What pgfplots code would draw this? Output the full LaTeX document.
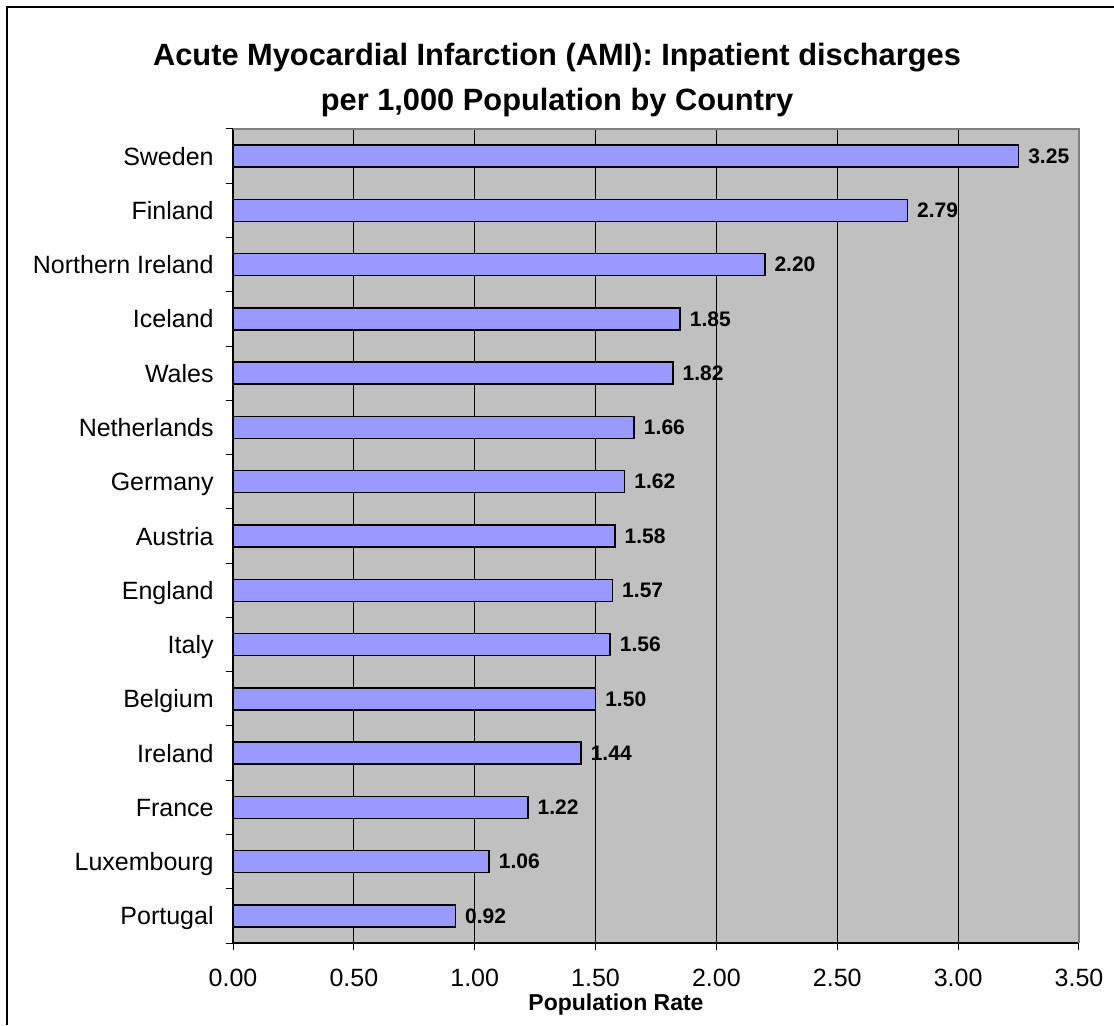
\documentclass[border=0pt]{standalone}
\usepackage{pgfplots}
\pgfplotsset{compat=1.18}
\usepackage{pgfplotstable}
\usepackage{fontspec}
\setmainfont{Liberation Sans}
\definecolor{barblue}{HTML}{9999FF}
\definecolor{plotgray}{HTML}{C0C0C0}
\definecolor{bordergray}{HTML}{808080}
\pgfplotstableread{
idx value
0 0.92
1 1.06
2 1.22
3 1.44
4 1.50
5 1.56
6 1.57
7 1.58
8 1.62
9 1.66
10 1.82
11 1.85
12 2.20
13 2.79
14 3.25
}\amidata
\begin{document}
\begin{tikzpicture}[x=1pt,y=1pt]
\useasboundingbox (0,0) rectangle (557,512.5);
\draw[line width=1pt] (3.5,0) -- (3.5,509) -- (557,509);
\node[anchor=base,font=\fontsize{15.4}{18}\selectfont\bfseries] at (278.5,479.5) {Acute Myocardial Infarction (AMI): Inpatient discharges};
\node[anchor=base,font=\fontsize{15.4}{18}\selectfont\bfseries] at (278.5,457) {per 1,000 Population by Country};
\begin{axis}[
  at={(116.5pt,41pt)}, anchor=south west,
  scale only axis, width=423pt, height=407pt,
  xmin=0, xmax=3.5, ymin=-0.5, ymax=14.5,
  xbar, bar width=0.405,
  axis x line*=bottom, axis y line*=left,
  axis line style={black, line width=0.75pt},
  axis background/.style={fill=plotgray},
  xtick={0,0.5,...,3.5},
  ytick={0,...,14},
  yticklabels={Portugal,Luxembourg,France,Ireland,Belgium,Italy,England,Austria,Germany,Netherlands,Wales,Iceland,Northern Ireland,Finland,Sweden},
  minor ytick={-0.5,0.5,...,14.5},
  tick align=outside,
  major tick length=3.5pt, minor tick length=3.5pt,
  major y tick style={draw=none},
  minor y tick style={black, line width=0.5pt},
  major x tick style={black, line width=0.5pt},
  xmajorgrids, grid style={black, line width=0.5pt},
  /pgf/number format/assume math mode=true,
  xticklabel={\pgfmathprintnumber[fixed,fixed zerofill,precision=2]{\tick}},
  xticklabel style={font=\fontsize{12.5}{14}\selectfont, anchor=base, yshift=-18pt, inner sep=0pt},
  yticklabel style={font=\fontsize{12.5}{14}\selectfont, anchor=base east, inner sep=0pt, xshift=-6pt, yshift=-4.5pt},
  nodes near coords,
  nodes near coords style={font=\fontsize{10.5}{12}\selectfont\bfseries, anchor=west, inner sep=0pt, xshift=4.5pt,
    /pgf/number format/.cd, fixed, fixed zerofill, precision=2},
  clip=false,
]
\addplot[fill=barblue, draw=black, line width=0.75pt] table[x=value, y=idx] {\amidata};
\draw[bordergray, line width=1pt] (rel axis cs:0,1) -- (rel axis cs:1,1) -- (rel axis cs:1,0);
\end{axis}
\node[anchor=base,font=\fontsize{11.5}{13}\selectfont\bfseries] at (308,7.5) {Population Rate};
\end{tikzpicture}
\end{document}
